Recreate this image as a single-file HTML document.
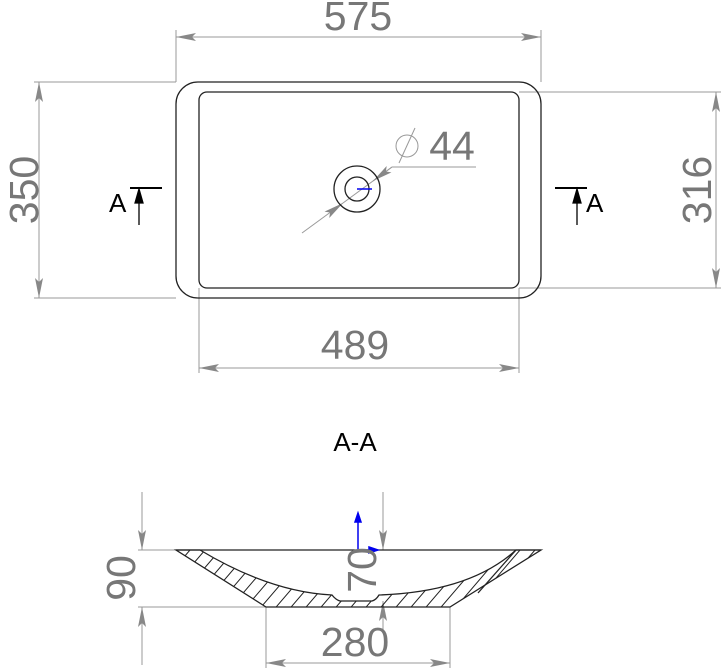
<!DOCTYPE html>
<html><head><style>body{margin:0;background:#fff}svg{display:block}</style></head><body>
<svg width="721" height="671" viewBox="0 0 721 671" xmlns="http://www.w3.org/2000/svg">
<defs>
<marker id="ar" viewBox="0 0 20 8" refX="20" refY="4" markerWidth="20" markerHeight="8" markerUnits="userSpaceOnUse" orient="auto-start-reverse"><path d="M0,0 L20,4 L0,8 L4,4z" fill="#888"/></marker>
<clipPath id="sec"><path d="M176,550 L200,550 Q270,592 332,595 Q336,600 340,601 L372,601 Q376,600 379,595 Q470,592 516,550 L541,550 L450,607 L266,607 Z"/></clipPath>
</defs>
<g stroke="#999" stroke-width="1" fill="none">
<line x1="176" y1="30" x2="176" y2="82"/><line x1="541" y1="30" x2="541" y2="82"/>
<line x1="176" y1="37" x2="541" y2="37" marker-start="url(#ar)" marker-end="url(#ar)"/>
<line x1="34" y1="82" x2="176" y2="82"/><line x1="34" y1="298" x2="176" y2="298"/>
<line x1="39" y1="82" x2="39" y2="298" marker-start="url(#ar)" marker-end="url(#ar)"/>
<line x1="519" y1="92" x2="721" y2="92"/><line x1="519" y1="288" x2="721" y2="288"/>
<line x1="716" y1="92" x2="716" y2="288" marker-start="url(#ar)" marker-end="url(#ar)"/>
<line x1="199" y1="288" x2="199" y2="373"/><line x1="519" y1="288" x2="519" y2="373"/>
<line x1="199" y1="368" x2="519" y2="368" marker-start="url(#ar)" marker-end="url(#ar)"/>
<line x1="302" y1="233" x2="343" y2="203" marker-end="url(#ar)"/>
<line x1="343" y1="203" x2="392" y2="167"/>
<line x1="392" y1="167" x2="373" y2="181" marker-end="url(#ar)"/>
<line x1="392" y1="167" x2="476" y2="167"/>
<circle cx="407" cy="146" r="11"/><line x1="399" y1="163" x2="415" y2="128"/>
<line x1="138" y1="550" x2="176" y2="550"/><line x1="138" y1="607" x2="266" y2="607"/>
<line x1="142" y1="492" x2="142" y2="550" marker-end="url(#ar)"/>
<line x1="142" y1="665" x2="142" y2="607" marker-end="url(#ar)"/>
<line x1="383" y1="492" x2="383" y2="550" marker-end="url(#ar)"/>
<line x1="383" y1="630" x2="383" y2="601" marker-end="url(#ar)"/>
<line x1="266" y1="607" x2="266" y2="668"/><line x1="450" y1="607" x2="450" y2="668"/>
<line x1="266" y1="663" x2="450" y2="663" marker-start="url(#ar)" marker-end="url(#ar)"/>
</g>
<g stroke="#222" stroke-width="1.3" fill="none">
<rect x="176" y="82" width="365" height="216" rx="22"/>
<rect x="199" y="92" width="320" height="196" rx="8"/>
<circle cx="357" cy="189" r="23"/><circle cx="357" cy="189" r="12"/>
<line x1="130" y1="188" x2="162" y2="188" stroke="#000" stroke-width="2"/>
<line x1="555" y1="188" x2="587" y2="188" stroke="#000" stroke-width="2"/>
<path d="M176,550 L200,550 Q270,592 332,595 Q336,600 340,601 L372,601 Q376,600 379,595 Q470,592 516,550 L541,550 L450,607 L266,607 Z"/>
<line x1="176" y1="550" x2="541" y2="550"/>
<line x1="516" y1="550" x2="478" y2="593"/>
<g clip-path="url(#sec)" stroke-width="1">
<path d="M190,550 l-60,70 M205,550 l-60,70 M220,550 l-60,70 M235,550 l-60,70 M250,550 l-60,70 M265,550 l-60,70 M280,550 l-60,70 M295,550 l-60,70 M310,550 l-60,70 M325,550 l-60,70 M340,550 l-60,70 M355,550 l-60,70 M370,550 l-60,70 M385,550 l-60,70 M400,550 l-60,70 M415,550 l-60,70 M430,550 l-60,70 M445,550 l-60,70 M460,550 l-60,70 M475,550 l-60,70 M490,550 l-60,70 M505,550 l-60,70 M520,550 l-60,70 M535,550 l-60,70"/>
</g>
</g>
<g stroke="#000" stroke-width="1.3">
<line x1="139" y1="225" x2="139" y2="200"/><path d="M135,203 L139,189 L143,203Z" fill="#000"/>
<line x1="577" y1="225" x2="577" y2="200"/><path d="M573,203 L577,189 L581,203Z" fill="#000"/>
</g>
<g stroke="#0000ee" stroke-width="1.5">
<line x1="357" y1="189" x2="372" y2="189"/>
<line x1="358" y1="550" x2="358" y2="518"/><path d="M355,522 L358,513 L361,522Z" fill="#0000ee"/>
<line x1="358" y1="550" x2="372" y2="550"/><path d="M369,547 L378,550 L369,553Z" fill="#0000ee"/>
</g>
<g font-family="Liberation Sans, sans-serif" fill="#777" font-size="41" text-anchor="middle">
<text x="358" y="30">575</text>
<text x="355" y="359">489</text>
<text x="452" y="160">44</text>
<text x="355" y="656">280</text>
<text transform="translate(38,190) rotate(-90)">350</text>
<text transform="translate(711,190) rotate(-90)">316</text>
<text transform="translate(135,578) rotate(-90)">90</text>
<text transform="translate(376,570) rotate(-90)">70</text>
</g>
<g font-family="Liberation Sans, sans-serif" fill="#000" font-size="26">
<text x="109" y="212">A</text>
<text x="586" y="212">A</text>
<text x="355" y="451" text-anchor="middle">A-A</text>
</g>
</svg>
</body></html>
